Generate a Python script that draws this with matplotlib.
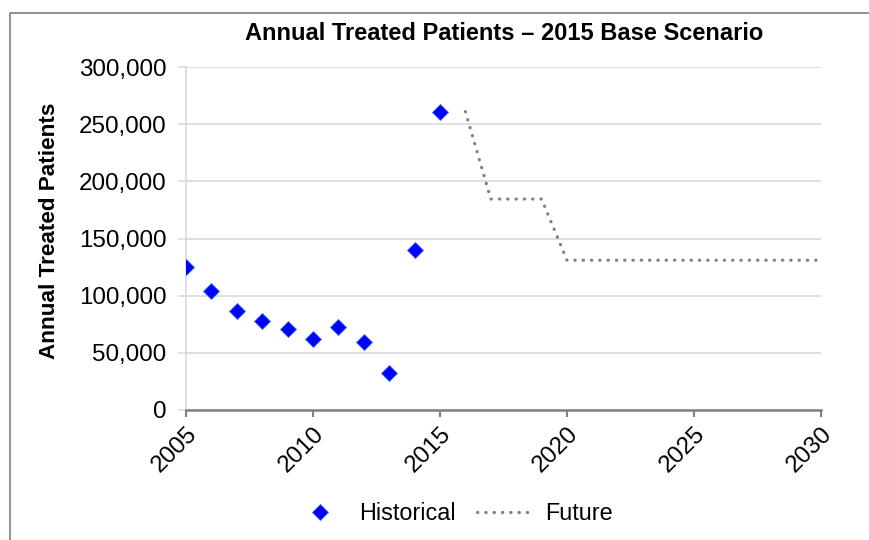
import matplotlib.pyplot as plt
from matplotlib.lines import Line2D

plt.rcParams['font.family'] = ['Liberation Sans', 'DejaVu Sans']

# historical data
hist_years = [2005, 2006, 2007, 2008, 2009, 2010, 2011, 2012, 2013, 2014, 2015]
hist_values = [125000, 104300, 86600, 78100, 70600, 62100, 72300, 59500, 32100, 140000, 260400]

# future scenario
future_years = list(range(2016, 2031))
future_values = [261000, 184500, 184500, 184500, 131000, 131000, 131000, 131000,
                 131000, 131000, 131000, 131000, 131000, 131000, 131000]

x_ticks = [2005, 2010, 2015, 2020, 2025, 2030]
y_ticks = [0, 50000, 100000, 150000, 200000, 250000, 300000]

fig = plt.figure(figsize=(8.7, 5.4), dpi=100)
ax = fig.add_axes([186 / 870, 1 - 410 / 540, (821 - 186) / 870, (410 - 67) / 540])

ax.plot(hist_years, hist_values, linestyle='none', marker='D', markersize=8,
        markerfacecolor='#0000FF', markeredgecolor='#3A6FE0', markeredgewidth=0.6,
        label='Historical', zorder=3)
ax.plot(future_years, future_values, color='#808080', linewidth=2.3,
        linestyle=(0, (0.1, 2.5)), dash_capstyle='round', label='Future', zorder=2)

ax.set_xlim(2005, 2030)
ax.set_ylim(0, 300000)
ax.set_xticks(x_ticks)
ax.set_yticks(y_ticks)
ax.set_yticklabels([f'{v:,}' for v in y_ticks])
ax.set_xticklabels([str(v) for v in x_ticks], rotation=45, ha='right', va='top',
                   rotation_mode='anchor')

ax.grid(axis='y', color='#D9D9D9', linewidth=1.2)
ax.set_axisbelow(True)
for side in ['top', 'right']:
    ax.spines[side].set_visible(False)
ax.spines['left'].set_color('#D9D9D9')
ax.spines['left'].set_linewidth(1.2)
ax.spines['bottom'].set_color('#808080')
ax.spines['bottom'].set_linewidth(1.8)
ax.spines['bottom'].set_zorder(4)

ax.tick_params(axis='y', colors='#D9D9D9', length=6, width=1.2, labelcolor='black',
               labelsize=17.4, pad=8)
ax.tick_params(axis='x', colors='#808080', length=5, width=1.5, labelcolor='black',
               labelsize=17.4, pad=4)

ax.set_ylabel('Annual Treated Patients', fontsize=16.2, fontweight='bold')
ax.yaxis.set_label_coords(60 / 870, 1 - 231 / 540, transform=fig.transFigure)
fig.text(504 / 870, 1 - 34 / 540, 'Annual Treated Patients \u2013 2015 Base Scenario',
         fontsize=17, fontweight='bold', ha='center', va='center')

fig.legend(loc='center', bbox_to_anchor=(452 / 870, 1 - 514 / 540), ncol=2,
           frameon=False, fontsize=16.8, handlelength=2.4, columnspacing=0.9,
           handletextpad=0.5)

# chart border (only top and left visible in frame)
fig.add_artist(Line2D([10 / 870, 10 / 870, 1], [0, 1 - 13 / 540, 1 - 13 / 540],
                      transform=fig.transFigure, color='#888888', linewidth=1.3))

fig.savefig('out.png', dpi=100)
